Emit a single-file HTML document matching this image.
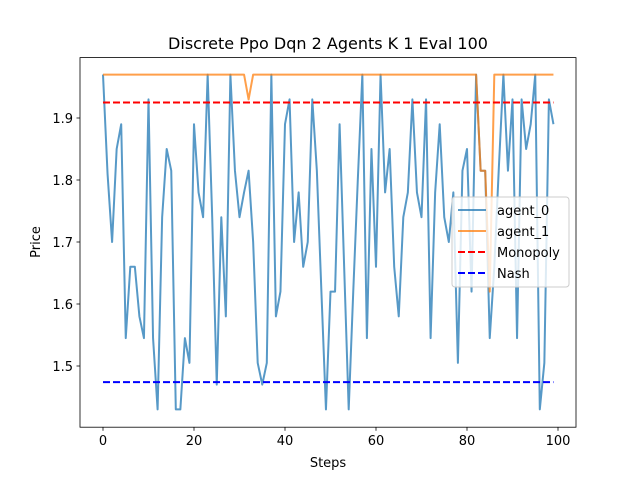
<!DOCTYPE html>
<html><head><meta charset="utf-8"><style>
body{margin:0;background:#fff;}
svg text{font-family:"DejaVu Sans","Liberation Sans",sans-serif;fill:#000;}
</style></head><body>
<svg id="chart" width="640" height="480" xmlns="http://www.w3.org/2000/svg">
<rect width="640" height="480" fill="#fff"/>
<text x="328" y="49" font-size="16" text-anchor="middle">Discrete Ppo Dqn 2 Agents K 1 Eval 100</text>
<g id="plot"></g>
<rect x="80" y="57.6" width="496" height="369.6" fill="none" stroke="#000" stroke-width="0.8"/>
<g id="xt"></g>
<g id="yt"></g>
<text x="328" y="467" font-size="13" text-anchor="middle">Steps</text>
<text x="0" y="0" font-size="13" text-anchor="middle" transform="translate(40,242) rotate(-90)">Price</text>
<g>
<rect x="452" y="197" width="117" height="90" rx="3" fill="#fff" fill-opacity="0.8" stroke="#ccc"/>
<line x1="458" y1="210" x2="486" y2="210" stroke="#1f77b4" stroke-opacity="0.75" stroke-width="2"/>
<text x="497" y="215" font-size="13">agent_0</text>
<line x1="458" y1="231" x2="486" y2="231" stroke="#ff7f0e" stroke-opacity="0.75" stroke-width="2"/>
<text x="497" y="236" font-size="13">agent_1</text>
<line x1="458" y1="252" x2="486" y2="252" stroke="#f00" stroke-width="2" stroke-dasharray="7,3"/>
<text x="497" y="257" font-size="13">Monopoly</text>
<line x1="458" y1="273" x2="486" y2="273" stroke="#00f" stroke-width="2" stroke-dasharray="7,3"/>
<text x="497" y="278" font-size="13">Nash</text>
</g>
</svg>
<script>
const agent0 = [1.97,1.81,1.70,1.85,1.89,1.545,1.66,1.66,1.58,1.545,
1.93,1.545,1.43,1.74,1.85,1.815,1.43,1.43,1.545,1.505,
1.89,1.78,1.74,1.97,1.74,1.47,1.74,1.58,1.97,1.815,
1.74,1.78,1.815,1.70,1.505,1.47,1.505,1.97,1.58,1.62,
1.89,1.93,1.70,1.78,1.66,1.70,1.93,1.815,1.62,1.43,
1.62,1.62,1.89,1.66,1.43,1.62,1.80,1.97,1.545,1.85,
1.66,1.97,1.78,1.85,1.66,1.58,1.74,1.78,1.93,1.78,
1.74,1.93,1.545,1.78,1.89,1.74,1.70,1.78,1.505,1.815,
1.85,1.62,1.97,1.815,1.815,1.545,1.66,1.82,1.97,1.815,
1.93,1.545,1.93,1.85,1.89,1.97,1.43,1.505,1.93,1.89];
const agent1Base = 1.97;
const agent1Changes = [[32,1.93],[83,1.815],[84,1.815],[85,1.62]];
const monopoly = 1.925;
const nash = 1.474;
const xTicks = [0,20,40,60,80,100];
const yTicks = [1.5,1.6,1.7,1.8,1.9];

const NS="http://www.w3.org/2000/svg";
function xs(v){return 103+(v)*4.55;}
function ys(v){return 118+(1.9-v)*620;}
const plot=document.getElementById('plot');
function mk(tag,attrs,parent){const e=document.createElementNS(NS,tag);for(const k in attrs)e.setAttribute(k,attrs[k]);parent.appendChild(e);return e;}

const agent1=agent0.map(()=>agent1Base);
agent1Changes.forEach(([i,v])=>{agent1[i]=v;});

let p=mk('polyline',{points:agent0.map((v,i)=>xs(i)+','+ys(v)).join(' '),fill:'none',stroke:'#1f77b4','stroke-opacity':0.75,'stroke-width':2,'stroke-linejoin':'round'},plot);


p=mk('polyline',{points:agent1.map((v,i)=>xs(i)+','+ys(v)).join(' '),fill:'none',stroke:'#ff7f0e','stroke-opacity':0.75,'stroke-width':2,'stroke-linejoin':'round'},plot);


let l=mk('line',{x1:xs(0),x2:xs(99),y1:ys(monopoly),y2:ys(monopoly),stroke:'#f00','stroke-width':2,'stroke-dasharray':'7,3'},plot);


l=mk('line',{x1:xs(0),x2:xs(99),y1:ys(nash),y2:ys(nash),stroke:'#00f','stroke-width':2,'stroke-dasharray':'7,3'},plot);



const xt=document.getElementById('xt');
xTicks.forEach(t=>{
  const tk=mk('line',{x1:xs(t),x2:xs(t),y1:427.2,y2:430.7,stroke:'#000','stroke-width':0.8},xt);
  
  
  const tx=mk('text',{x:xs(t),y:445,'font-size':13,'text-anchor':'middle'},xt);
  tx.textContent=t;
  
  
});
const yt=document.getElementById('yt');
yTicks.forEach(t=>{
  const tk=mk('line',{x1:76.5,x2:80,y1:ys(t),y2:ys(t),stroke:'#000','stroke-width':0.8},yt);
  
  
  const tx=mk('text',{x:73,y:ys(t)+5,'font-size':13,'text-anchor':'end'},yt);
  tx.textContent=t.toFixed(1);
  
  
});
</script>
</body></html>
